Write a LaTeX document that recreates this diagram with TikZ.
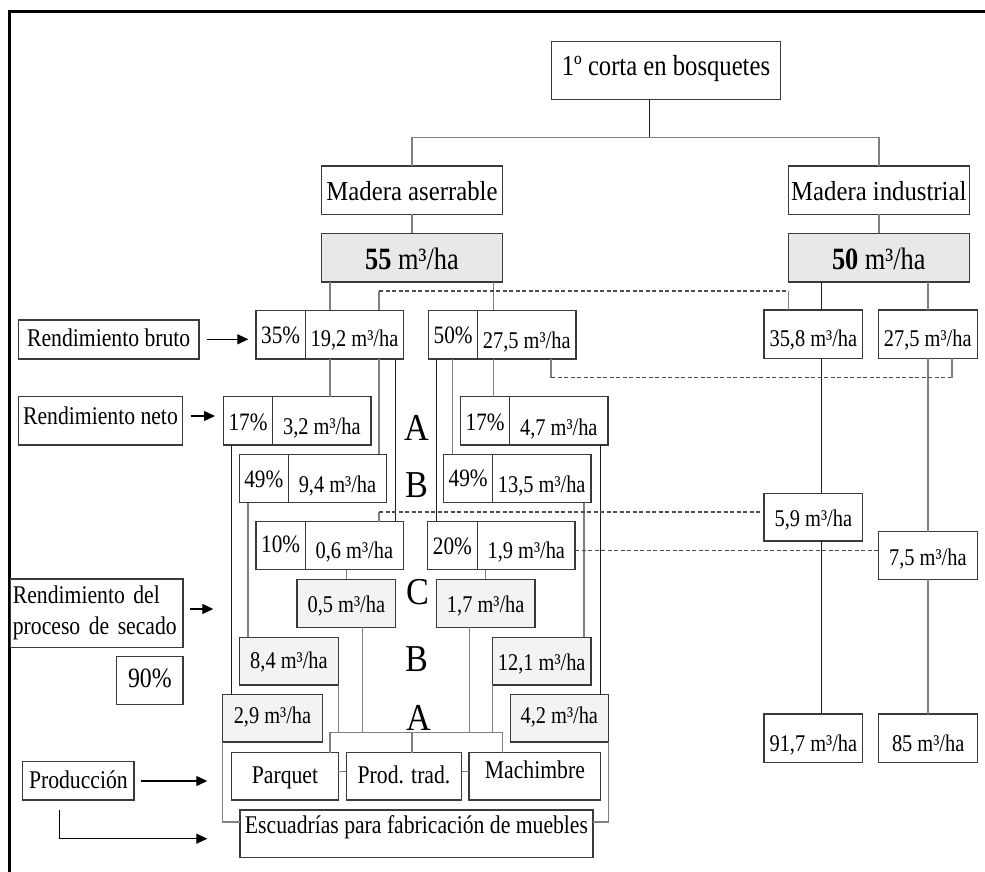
\documentclass[tikz,border=0pt]{standalone}
\usepackage{fontspec}
\setmainfont{Liberation Serif}[FakeStretch=0.85]
\newfontfamily\widefont{Liberation Serif}[FakeStretch=0.9]
\usetikzlibrary{arrows.meta}
\definecolor{bordc}{HTML}{3A3A3A}
\definecolor{linegray}{HTML}{808080}
\definecolor{linedark}{HTML}{1E1E1E}
\definecolor{dashc}{HTML}{4D4D4D}
\definecolor{headfill}{HTML}{E8E8E8}
\definecolor{dryfill}{HTML}{F3F3F3}
% \mkcell{style}{name}{centre}{width}{height}{text height}{text}
\newcommand\mkcell[7]{\node[#1, minimum width=#4pt, minimum height=#5pt, text height=#6pt] (#2) at (#3) {#7};}
\begin{document}
\begin{tikzpicture}[x=1pt,y=-1pt,
  box/.style={draw=bordc, line width=1.3pt, fill=white, inner sep=0pt, outer sep=0pt, text depth=0pt},
  val/.style={box, font=\fontsize{24}{28}\selectfont},
  pct/.style={box, font=\fontsize{25}{29}\selectfont},
  lab/.style={box, font=\fontsize{25.5}{30}\selectfont},
  head/.style={fill=headfill},
  dry/.style={fill=dryfill},
  letter/.style={font=\widefont\fontsize{38}{40}\selectfont, inner sep=0pt},
  cg/.style={draw=linegray, line width=1.4pt},
  ck/.style={draw=linedark, line width=1.1pt},
  dsh/.style={draw=dashc, line width=1.2pt, dash pattern=on 4pt off 2.5pt},
  arr/.style={draw=black, line width=1.2pt, -{Triangle[length=11pt,width=10pt]}}]
\useasboundingbox (0,0) rectangle (985,872);

% frame
\draw[line width=2.5pt] (9.3,872) -- (9.3,11.7) -- (985,11.7);

% head of the tree
\mkcell{box, font=\fontsize{29}{33}\selectfont}{top}{666,70.5}{229.4}{57.6}{11}{1º corta en bosquetes}
\mkcell{box, font=\widefont\fontsize{27.5}{31}\selectfont}{mas}{412,190.2}{181}{48.3}{19.7}{Madera aserrable}
\mkcell{box, font=\widefont\fontsize{27.5}{31}\selectfont}{mind}{878.8,190.2}{181}{48.3}{19.7}{Madera industrial}
\mkcell{box, head, font=\fontsize{31}{35}\selectfont}{v55}{412,257.6}{181}{48.7}{23.3}{\textbf{55} m³/ha}
\mkcell{box, head, font=\fontsize{31}{35}\selectfont}{v50}{878.8,257.6}{181}{48.7}{23}{\textbf{50} m³/ha}

% row labels on the left
\mkcell{lab}{rbruto}{108.7,339.5}{180.7}{39}{14.4}{Rendimiento bruto}
\mkcell{lab}{rneto}{100.5,420.9}{164.4}{48.3}{6.3}{Rendimiento neto}
\node[lab, minimum width=172.3pt, minimum height=68.3pt, text height=11pt, text depth=30.7pt,
      text width=168pt, align=left, font=\fontsize{25.5}{30.7}\selectfont] (rsec) at (96.9,613.2)
      {Rendimiento del\\proceso de secado};
\mkcell{box, font=\fontsize{28}{32}\selectfont}{p90}{149.9,680.5}{66.3}{47.6}{14.4}{90\%}
\mkcell{lab}{produccion}{78.4,780.9}{111.3}{38.3}{14.9}{Producción}

% gross yield
\mkcell{pct}{p35}{280.7,334.7}{49.3}{48.7}{17.3}{35\%}
\mkcell{val}{q192}{354.5,334.7}{98.4}{48.7}{24}{19,2 m³/ha}
\mkcell{pct}{p50}{453.1,334.7}{48.8}{48.7}{17.3}{50\%}
\mkcell{val}{q275a}{526.8,334.7}{98.5}{48.7}{27.3}{27,5 m³/ha}
\mkcell{val}{q358}{813.4,334.2}{98.7}{48.3}{25}{35,8 m³/ha}
\mkcell{val}{q275b}{927.8,334.2}{99}{48.3}{25}{27,5 m³/ha}

% net yield, classes A, B, C
\mkcell{pct}{p17a}{248,420.9}{49.4}{48.3}{19.7}{17\%}
\mkcell{val}{q32}{321.9,420.9}{98.3}{48.3}{26.3}{3,2 m³/ha}
\mkcell{pct}{p17b}{485.1,420.9}{48.8}{48.3}{19.7}{17\%}
\mkcell{val}{q47}{558.8,420.9}{98.5}{48.3}{29.7}{4,7 m³/ha}
\mkcell{pct}{p49a}{263.8,478.5}{49}{48.4}{17.6}{49\%}
\mkcell{val}{q94}{337.5,478.5}{98.4}{48.4}{28.4}{9,4 m³/ha}
\mkcell{pct}{p49b}{468.1,478.5}{48.7}{48.4}{16.4}{49\%}
\mkcell{val}{q135}{541.7,478.5}{98.6}{48.4}{27.6}{13,5 m³/ha}
\mkcell{pct}{p10}{280.7,545.6}{49.3}{47.8}{14}{10\%}
\mkcell{val}{q06}{354.4,545.6}{98.2}{47.8}{26.2}{0,6 m³/ha}
\mkcell{pct}{p20}{452.4,545.6}{50.2}{47.8}{18.3}{20\%}
\mkcell{val}{q19}{526.3,545.6}{97.5}{47.8}{26.3}{1,9 m³/ha}
\mkcell{val}{q59}{813.4,517.2}{98.7}{47.7}{19.1}{5,9 m³/ha}
\mkcell{val}{q75}{927.8,555.5}{99}{47.6}{19}{7,5 m³/ha}

% after drying
\mkcell{val, dry}{q05}{346.4,603.3}{98.7}{48}{18.8}{0,5 m³/ha}
\mkcell{val, dry}{q17}{485.7,603.3}{98.7}{48}{18.8}{1,7 m³/ha}
\mkcell{val, dry}{q84}{289,661.2}{98.6}{47.7}{14.3}{8,4 m³/ha}
\mkcell{val, dry}{q121}{541.7,661.2}{98.7}{47.7}{19}{12,1 m³/ha}
\mkcell{val, dry}{q29}{272.5,718.3}{99.6}{47.5}{10.1}{2,9 m³/ha}
\mkcell{val, dry}{q42}{559.3,718.3}{98}{47.5}{10.1}{4,2 m³/ha}

% products
\mkcell{lab}{parq}{285,776.4}{106.6}{47.3}{13.9}{Parquet}
\mkcell{lab}{prod}{404,776.4}{115.4}{47.3}{13.9}{Prod. trad.}
\mkcell{lab}{mach}{534.9,776.4}{131.7}{47.3}{3.9}{Machimbre}
\mkcell{lab}{esc}{416.5,833.9}{353}{47.7}{0}{Escuadrías para fabricación de muebles}
\mkcell{val}{q917}{813.4,738.2}{98.7}{48.3}{27}{91,7 m³/ha}
\mkcell{val}{q85}{928.2,738.2}{99}{48.3}{27}{85 m³/ha}

% class letters
\node[letter] (lA1) at (417,428) {A};
\node[letter] (lB1) at (417,485.3) {B};
\node[letter] (lC) at (418,591.7) {C};
\node[letter] (lB2) at (416.7,659) {B};
\node[letter] (lA2) at (419,718.3) {A};

% guide coordinates for the connector tracks
\coordinate (ytop) at (0,137.3);
\coordinate (xtop) at (649.3,0);
\coordinate (xa) at (330,0);
\coordinate (xb) at (493.5,0);
\coordinate (xc) at (821.3,0);
\coordinate (xd) at (927.8,0);
\coordinate (xe) at (379,0);
\coordinate (xf) at (395.7,0);
\coordinate (xg) at (436.5,0);
\coordinate (xh) at (452.7,0);
\coordinate (xi) at (231.5,0);
\coordinate (xj) at (247.8,0);
\coordinate (xk) at (600.7,0);
\coordinate (xl) at (584,0);
\coordinate (xm) at (346.7,0);
\coordinate (xn) at (485.3,0);
\coordinate (xo) at (362.7,0);
\coordinate (xp) at (469.3,0);
\coordinate (xbarl) at (330,0);
\coordinate (xbarm) at (412,0);
\coordinate (xbarr) at (502.3,0);
\coordinate (ybar) at (0,732.7);
\coordinate (ytick) at (0,771.7);
\coordinate (yesc) at (0,822);
\coordinate (xdu) at (788.5,0);
\coordinate (xdl) at (551,0);
\coordinate (xdr) at (951.8,0);
\coordinate (yd1) at (0,291);
\coordinate (yd2) at (0,377.7);
\coordinate (yd3) at (0,512);
\coordinate (yd4) at (0,550.7);

% tree head connectors
\draw[ck] (top.south -| xtop) -- (xtop |- ytop);
\draw[cg] (mas.north) -- (mas.north |- ytop) -- (mind.north |- ytop) -- (mind.north);
\draw[cg] (mas.south) -- (v55.north);
\draw[cg] (mind.south) -- (v50.north);

% sawn timber branch
\draw[cg] (v55.south -| xa) -- (q192.north -| xa);
\draw[cg] (q192.south -| xa) -- (q32.north -| xa);
\draw[cg] (v55.south -| xb) -- (q275a.north -| xb);
\draw[cg] (q275a.south -| xb) -- (p17b.north -| xb);
\draw[cg] (q192.south -| xe) -- (q94.north -| xe);
\draw[ck] (q192.south -| xf) -- (q06.north -| xf);
\draw[ck] (p50.south -| xg) -- (p20.north -| xg);
\draw[cg] (p50.south -| xh) -- (p49b.north -| xh);
\draw[ck] (p17a.south -| xi) -- (q29.north -| xi);
\draw[cg] (p49a.south -| xj) -- (q84.north -| xj);
\draw[ck] (q47.south -| xk) -- (q42.north -| xk);
\draw[cg] (q135.south -| xl) -- (q121.north -| xl);
\draw[cg] (q06.south -| xm) -- (q05.north -| xm);
\draw[cg] (q19.south -| xn) -- (q17.north -| xn);
\draw[cg] (q05.south -| xo) -- (xo |- ybar);
\draw[cg] (q17.south -| xp) -- (xp |- ybar);
\draw[cg] (q84.south east) -- (q84.south east |- ybar);
\draw[cg] (q121.south west) -- (q121.south west |- ybar);
\draw[cg] (parq.north -| xbarl) -- (xbarl |- ybar) -- (xbarr |- ybar) -- (mach.north -| xbarr);
\draw[cg] (xbarm |- ybar) -- (prod.north -| xbarm);
\draw[cg] (parq.east |- ytick) -- (prod.west |- ytick);
\draw[cg] (prod.east |- ytick) -- (mach.west |- ytick);
\draw[cg] (q29.south west) -- (q29.south west |- yesc) -- (esc.west |- yesc);
\draw[cg] (q42.south east) -- (q42.south east |- yesc) -- (esc.east |- yesc);

% industrial timber branch
\draw[ck] (v50.south -| xc) -- (q358.north -| xc);
\draw[ck] (q358.south -| xc) -- (q59.north -| xc);
\draw[ck] (q59.south -| xc) -- (q917.north -| xc);
\draw[cg] (v50.south -| xd) -- (q275b.north -| xd);
\draw[cg] (q275b.south -| xd) -- (q75.north -| xd);
\draw[cg] (q75.south -| xd) -- (q85.north -| xd);

% residues passed on to industrial timber
\draw[cg] (q192.north -| xe) -- (xe |- yd1);
\draw[dsh] (xe |- yd1) -- (xdu |- yd1);
\draw[cg] (xdu |- yd1) -- (q358.north -| xdu);
\draw[cg] (q275a.south -| xdl) -- (xdl |- yd2);
\draw[dsh] (xdl |- yd2) -- (xdr |- yd2);
\draw[cg] (xdr |- yd2) -- (q275b.south -| xdr);
\draw[cg] (q06.north -| xe) -- (xe |- yd3);
\draw[dsh] (xe |- yd3) -- (q59.west |- yd3);
\draw[dsh] (q19.east |- yd4) -- (q75.west |- yd4);

% arrows from the row labels
\coordinate (a1s) at (206.7,339.3); \coordinate (a1e) at (248.3,339.3);
\coordinate (a2s) at (190.7,416);   \coordinate (a2e) at (215,416);
\coordinate (a3s) at (190,609);     \coordinate (a3e) at (213.3,609);
\coordinate (a4s) at (140.7,781);   \coordinate (a4e) at (207.3,781);
\coordinate (a5s) at (59.3,810);    \coordinate (a5e) at (207.3,838.7);
\draw[arr] (a1s) -- (a1e);
\draw[arr] (a2s) -- (a2e);
\draw[arr] (a3s) -- (a3e);
\draw[arr] (a4s) -- (a4e);
\draw[arr] (a5s) |- (a5e);
\end{tikzpicture}
\end{document}
